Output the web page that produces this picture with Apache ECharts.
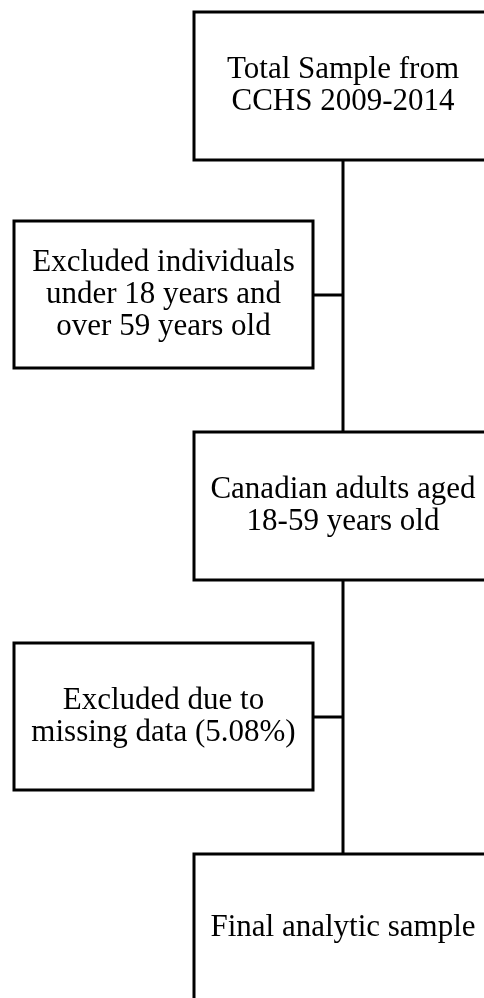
<!DOCTYPE html>
<html>
<head>
<meta charset="utf-8">
<script src="https://cdn.jsdelivr.net/npm/echarts@6/dist/echarts.min.js"></script>
<style>
  html, body { margin: 0; padding: 0; background: #fff; }
  #main { width: 484px; height: 998px; }
</style>
</head>
<body>
<div id="main"></div>
<script>
// flow steps (main column) and exclusions (side column)
var mainSteps = [
    'Total Sample from\nCCHS 2009-2014',
    'Canadian adults aged\n18-59 years old',
    'Final analytic sample'
];
var excludedSteps = [
    'Excluded individuals\nunder 18 years and\nover 59 years old',
    'Excluded due to\nmissing data (5.08%)'
];

var myChart = echarts.init(document.getElementById('main'));

// layout
var mainX = 194, boxW = 298, boxH = 148;
var sideX = 14, sideW = 299;
var mainY = [12, 432, 854];
var sideY = [221, 643];
var lineX = 343;
var stroke = '#000', lw = 3;
var font = '31px "Liberation Serif", "Times New Roman", serif';

function box(x, y, w, h, label) {
    return [{
        type: 'rect',
        shape: { x: x, y: y, width: w, height: h },
        style: { fill: '#fff', stroke: stroke, lineWidth: lw },
        z: 10
    }, {
        type: 'text',
        x: x + w / 2,
        y: y + h / 2,
        style: {
            text: label,
            font: font,
            fill: '#000',
            align: 'center',
            verticalAlign: 'middle',
            lineHeight: 32
        },
        z: 11
    }];
}

var elements = [];
// trunk line
elements.push({
    type: 'line',
    shape: { x1: lineX, y1: mainY[0] + boxH, x2: lineX, y2: mainY[2] },
    style: { stroke: stroke, lineWidth: lw },
    z: 5
});
mainSteps.forEach(function (t, i) {
    elements = elements.concat(box(mainX, mainY[i], boxW, boxH, t));
});
excludedSteps.forEach(function (t, i) {
    elements = elements.concat(box(sideX, sideY[i], sideW, boxH - 1, t));
    var cy = sideY[i] + boxH / 2;
    elements.push({
        type: 'line',
        shape: { x1: sideX + sideW, y1: cy, x2: lineX, y2: cy },
        style: { stroke: stroke, lineWidth: lw },
        z: 5
    });
});

var option = {
    backgroundColor: '#fff',
    animation: false,
    graphic: { elements: elements }
};
myChart.setOption(option);
</script>
</body>
</html>
